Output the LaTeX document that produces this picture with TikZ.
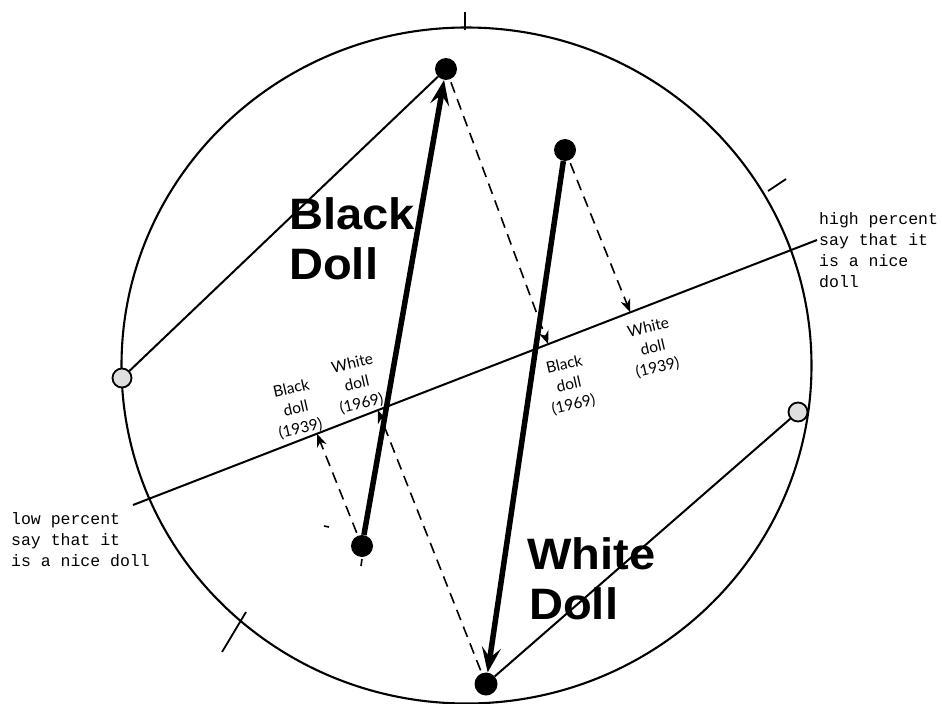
\documentclass[tikz,border=0pt]{standalone}
\usepackage{fontspec}
\setmainfont{Liberation Sans}
\newfontfamily\monofont{Liberation Mono}
\newfontfamily\handfont{Lato}
\usetikzlibrary{arrows.meta,calc}
\begin{document}
\begin{tikzpicture}[x=1pt,y=-1pt,
  bdot/.style={circle,fill=black,inner sep=0pt,minimum size=22pt},
  gdot/.style={circle,draw=black,line width=1.8pt,fill=gray!25,inner sep=0pt,minimum size=19pt},
  conn/.style={line width=2pt},
  tickmark/.style={line width=1.8pt},
  heavyarrow/.style={line width=5.5pt,-{Stealth[length=25pt,width=19pt,inset=10pt]}},
  dasharrow/.style={line width=1.6pt,dash pattern=on 11pt off 7pt,shorten <=3pt,-{Stealth[length=13pt,width=10pt,inset=4pt]}},
  biglabel/.style={font=\fontsize{44}{50}\selectfont\bfseries,inner sep=0pt,anchor=base west,xscale=1.07},
  monolabel/.style={font=\monofont\fontsize{16.5}{21}\selectfont,inner sep=0pt,anchor=north west,align=left},
  handlabel/.style={font=\handfont\fontsize{15.5}{20.5}\selectfont,inner sep=0pt,align=center,rotate=13}]
\useasboundingbox (0,0) rectangle (943,704);
% big circle
\draw[line width=2.1pt] (466.5,365.5) ellipse [x radius=345pt, y radius=338pt];
% tick marks
\draw[tickmark] (465,12) -- (465,30);
\draw[tickmark] (768,191) -- (786,179);
\draw[tickmark] (222,652) -- (246,612);
% axis
\coordinate (axL) at (133,505);
\coordinate (axR) at (817,240);
\draw[line width=2pt] (axL) -- (axR);
\coordinate (pB39) at ($(axL)!0.269!(axR)$);
\coordinate (pW69) at ($(axL)!0.358!(axR)$);
\coordinate (pB69) at ($(axL)!0.607!(axR)$);
\coordinate (pW39) at ($(axL)!0.727!(axR)$);
% dots
\node[gdot] (gl) at (122,378) {};
\node[gdot] (gr) at (798,412) {};
\node[bdot] (t1) at (446,69) {};
\node[bdot] (t2) at (565,150) {};
\node[bdot] (b1) at (362,546) {};
\node[bdot,minimum size=23pt] (b2) at (486,684) {};
% thin lines
\draw[conn] (gl) -- (t1);
\draw[conn] (b2) -- (gr);
% heavy arrows
\draw[heavyarrow] (b1) -- (t1);
\draw[heavyarrow] (t2) -- (b2);
% dashed arrows
\draw[dasharrow] (t1) -- (pB69);
\draw[dasharrow] (t2) -- (pW39);
\draw[dasharrow] (b1) -- (pB39);
\draw[dasharrow] (b2) -- (pW69);
% stray marks
\draw[line width=1.6pt] (324,526) -- (329,527);
\draw[line width=1.6pt] (362,559) -- (361,566);
% big labels
\node[biglabel] (bl1) at (289,229) {Black};
\node[biglabel] (bl2) at (289,279) {Doll};
\node[biglabel] (wl1) at (527,569) {White};
\node[biglabel] (wl2) at (529,619) {Doll};
% handwritten labels
\node[handlabel] (hB39) at (296,409) {Black\\doll\\(1939)};
\node[handlabel] (hW69) at (357,384) {White\\doll\\(1969)};
\node[handlabel] (hB69) at (569,385) {Black\\doll\\(1969)};
\node[handlabel] (hW39) at (653,348) {White\\doll\\(1939)};
% typewritten labels
\node[monolabel] (high) at (819,212) {high percent\\say that it\\is a nice\\doll};
\node[monolabel] (low) at (11,512) {low percent\\say that it\\is a nice doll};
\end{tikzpicture}
\end{document}
